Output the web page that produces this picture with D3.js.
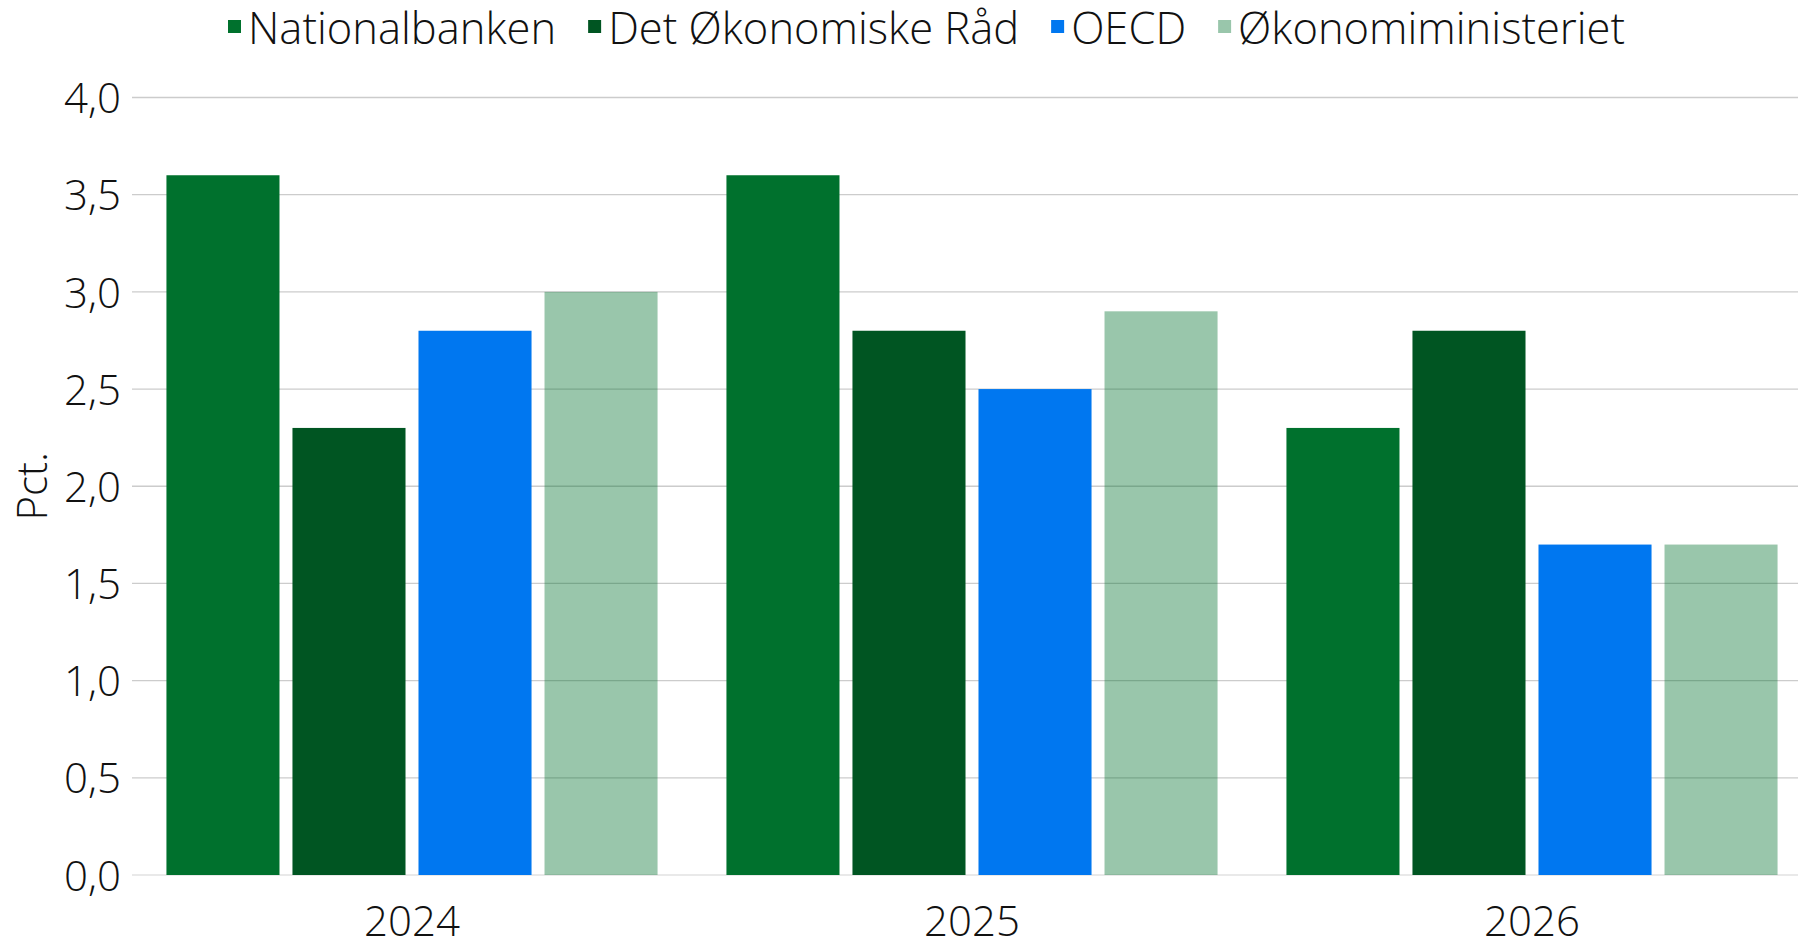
<!DOCTYPE html>
<html>
<head>
<meta charset="utf-8">
<script src="https://cdn.jsdelivr.net/npm/d3@7"></script>
<style>
  html, body { margin: 0; padding: 0; background: #fff; }
  svg { display: block; }
  text { font-family: "Open Sans", sans-serif; font-weight: 300; fill: #111; }
</style>
</head>
<body>
<svg id="chart" width="1798" height="940"></svg>
<script>
const years = ["2024", "2025", "2026"];
const seriesNames = ["Nationalbanken", "Det Økonomiske Råd", "OECD", "Økonomiministeriet"];
const nationalbanken = [3.6, 3.6, 2.3];
const detOkonomiskeRaad = [2.3, 2.8, 2.8];
const oecd = [2.8, 2.5, 1.7];
const okonomiministeriet = [3.0, 2.9, 1.7];
const yTicks = [0, 0.5, 1, 1.5, 2, 2.5, 3, 3.5, 4];
const yLabel = "Pct.";

const seriesValues = [nationalbanken, detOkonomiskeRaad, oecd, okonomiministeriet];
const colors = ["#00712D", "#005522", "#0077F0", "#00712D"];
const opacities = [1, 1, 1, 0.4];

const svg = d3.select("#chart");
const locale = d3.formatLocale({decimal: ",", thousands: ".", grouping: [3], currency: ["", " kr."]});
const fmt = locale.format(".1f");

const mLeft = 132, mRight = 1812, mTop = 97.5, mBottom = 875;
const x0 = d3.scaleBand().domain(years).range([mLeft, mRight]).paddingInner(0.123).paddingOuter(0.0615);
const x1 = d3.scaleBand().domain(seriesNames).range([0, x0.bandwidth()]).paddingInner(0.103).paddingOuter(0);
const y = d3.scaleLinear().domain([0, 4]).range([mBottom, mTop]);

// gridlines
const grid = svg.append("g");
grid.selectAll("line").data(yTicks).join("line")
  .attr("x1", mLeft).attr("x2", 1798)
  .attr("y1", d => y(d)).attr("y2", d => y(d))
  .attr("stroke", d => d === 0 ? "#e2e2e2" : "#cccccc")
  .attr("stroke-width", 1.3);

// y axis labels
const yAxis = svg.append("g").attr("transform", `translate(${mLeft},0)`)
  .call(d3.axisLeft(y).tickValues(yTicks).tickFormat(fmt).tickSize(0).tickPadding(11));
yAxis.select(".domain").remove();
yAxis.selectAll("text").attr("font-size", 42).attr("font-family", null).attr("dy", "0.36em").style("fill", "#111");

// y label
svg.append("text")
  .attr("transform", `translate(47,${(mTop + mBottom) / 2}) rotate(-90)`)
  .attr("text-anchor", "middle")
  .attr("font-size", 42)
  .text(yLabel);

// bars
const groups = svg.append("g").selectAll("g").data(years).join("g")
  .attr("transform", d => `translate(${x0(d)},0)`);
groups.selectAll("rect").data((d, i) => seriesNames.map((s, j) => ({s, j, v: seriesValues[j][i]})))
  .join("rect")
  .attr("x", d => x1(d.s))
  .attr("width", x1.bandwidth())
  .attr("y", d => y(d.v))
  .attr("height", d => y(0) - y(d.v))
  .attr("fill", d => colors[d.j])
  .attr("fill-opacity", d => opacities[d.j]);

// x axis labels
const xAxis = svg.append("g").attr("transform", `translate(0,${mBottom})`)
  .call(d3.axisBottom(x0).tickSize(0).tickPadding(31));
xAxis.select(".domain").remove();
xAxis.selectAll("text").attr("font-size", 42).attr("font-family", null).attr("dy", "0.71em").style("fill", "#111");

// legend
const legend = svg.append("g");
let lx = 228;
seriesNames.forEach((name, j) => {
  const g = legend.append("g").attr("transform", `translate(${lx},0)`);
  g.append("rect").attr("x", 0).attr("y", 20).attr("width", 13).attr("height", 13)
    .attr("fill", colors[j]).attr("fill-opacity", opacities[j]);
  const t = g.append("text").attr("x", 20).attr("y", 44).attr("font-size", 43.5).text(name);
  lx += 20 + t.node().getComputedTextLength() + 32;
});
</script>
</body>
</html>
